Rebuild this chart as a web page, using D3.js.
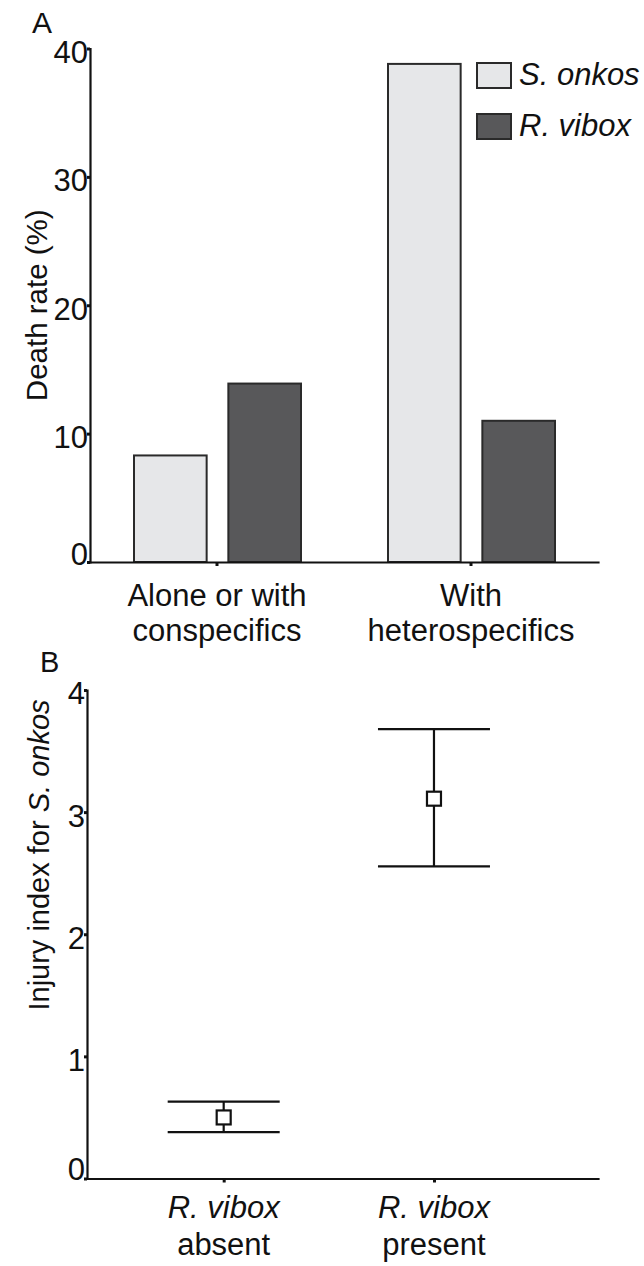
<!DOCTYPE html>
<html>
<head>
<meta charset="utf-8">
<script src="https://cdn.jsdelivr.net/npm/d3@7"></script>
<style>
  html, body { margin: 0; padding: 0; background: #fff; }
  svg { display: block; }
  text { font-family: "Liberation Sans", Arial, Helvetica, sans-serif; fill: #111; }
</style>
</head>
<body>
<svg id="fig" width="644" height="1266"></svg>
<script>
// ---- Panel A: death rate by social context ----
const groups = ["Alone or with conspecifics", "With heterospecifics"];
const groupLines = [["Alone or with", "conspecifics"], ["With", "heterospecifics"]];
const species = ["S. onkos", "R. vibox"];
const onkosDeath = [8.3, 38.8];
const viboxDeath = [13.9, 11.0];
const deathTicks = [0, 10, 20, 30, 40];

// ---- Panel B: injury index for S. onkos ----
const conditions = [1, 2];
const conditionLines = [["R. vibox", "absent"], ["R. vibox", "present"]];
const injuryMean = [0.50, 3.11];
const injuryUpper = [0.63, 3.68];
const injuryLower = [0.38, 2.555];
const injuryTicks = [0, 1, 2, 3, 4];

const speciesFill = { "S. onkos": "#e6e7e9", "R. vibox": "#58585a" };
const ink = "#111";

const svg = d3.select("#fig");

function styleAxis(g) {
  g.select(".domain").attr("stroke", ink).attr("stroke-width", 2.2).attr("stroke-linecap", "square");
  g.selectAll(".tick line").attr("stroke", ink).attr("stroke-width", 3);
  g.selectAll(".tick text").attr("fill", ink).style("font-size", "31px")
    .style("font-family", "'Liberation Sans', Arial, sans-serif");
}

// ================= Panel A =================
const yA = d3.scaleLinear().domain([0, 40]).range([562, 48.5]);
const xA = d3.scaleBand().domain(groups).range([90, 598]).paddingInner(0).paddingOuter(0);
const xInner = d3.scaleBand().domain(species).range([44, 211]).paddingInner(0.23);

const rows = groups.map((g, i) => ({ group: g, values: [
  { sp: species[0], v: onkosDeath[i] },
  { sp: species[1], v: viboxDeath[i] }
]}));

const gA = svg.append("g");

gA.selectAll("g.grp").data(rows).join("g")
  .attr("class", "grp")
  .attr("transform", d => `translate(${xA(d.group)},0)`)
  .selectAll("rect").data(d => d.values).join("rect")
  .attr("x", d => xInner(d.sp))
  .attr("width", xInner.bandwidth())
  .attr("y", d => yA(d.v))
  .attr("height", d => yA(0) - yA(d.v))
  .attr("fill", d => speciesFill[d.sp])
  .attr("stroke", "#2a2a2a")
  .attr("stroke-width", 2);

const axYA = gA.append("g").attr("transform", `translate(${xA.range()[0]},0)`)
  .call(d3.axisLeft(yA).tickValues(deathTicks).tickSize(3).tickSizeOuter(0).tickPadding(0).tickFormat(d3.format("d")));
styleAxis(axYA);
axYA.selectAll(".tick text").attr("dy", d => d === 0 ? "0.08em" : "0.45em").attr("x", -2);

const axXA = gA.append("g").attr("transform", `translate(0,${yA(0)})`)
  .call(d3.axisBottom(xA).tickSize(4).tickSizeOuter(0).tickFormat(""));
styleAxis(axXA);

gA.selectAll("text.cat").data(groups).join("text")
  .attr("class", "cat")
  .attr("text-anchor", "middle")
  .attr("x", d => xA(d) + xA.bandwidth() / 2)
  .attr("y", 606)
  .style("font-size", "31px")
  .selectAll("tspan").data((d, i) => groupLines[i]).join("tspan")
  .attr("x", function () { return d3.select(this.parentNode).attr("x"); })
  .attr("dy", (d, i) => i === 0 ? 0 : 35)
  .text(d => d);

gA.append("text")
  .attr("transform", `translate(47,${(yA(0) + yA(40)) / 2}) rotate(-90)`)
  .attr("text-anchor", "middle")
  .style("font-size", "29.5px")
  .text("Death rate (%)");

gA.append("text").attr("x", 32).attr("y", 33).style("font-size", "30px").text("A");

// legend
const legend = gA.selectAll("g.leg").data(species).join("g")
  .attr("class", "leg")
  .attr("transform", (d, i) => `translate(477,${63 + i * 51})`);
legend.append("rect")
  .attr("width", 34).attr("height", 25)
  .attr("fill", d => speciesFill[d])
  .attr("stroke", "#2a2a2a").attr("stroke-width", 2);
legend.append("text")
  .attr("x", 42).attr("y", 22)
  .style("font-size", "31px").style("font-style", "italic")
  .text(d => d);

// ================= Panel B =================
const yB = d3.scaleLinear().domain([0, 4]).range([1178.5, 690]);
const xB = d3.scaleLinear().domain([0.35, 2.78]).range([87, 598]);
const capHalf = 56;
const boxSize = 14;

const gB = svg.append("g");

const axYB = gB.append("g").attr("transform", `translate(${xB.range()[0]},0)`)
  .call(d3.axisLeft(yB).tickValues(injuryTicks).tickSize(3).tickSizeOuter(0).tickPadding(0).tickFormat(d3.format("d")));
styleAxis(axYB);
axYB.selectAll(".tick text").attr("dy", d => d === 0 ? "0.02em" : "0.45em").attr("x", -2);

const axXB = gB.append("g").attr("transform", `translate(0,${yB(0)})`)
  .call(d3.axisBottom(xB).tickValues(conditions).tickSize(4).tickSizeOuter(0).tickFormat(""));
styleAxis(axXB);

const pts = conditions.map((c, i) => ({ c, m: injuryMean[i], hi: injuryUpper[i], lo: injuryLower[i] }));

const eb = gB.selectAll("g.eb").data(pts).join("g").attr("class", "eb");
eb.append("line")
  .attr("x1", d => xB(d.c)).attr("x2", d => xB(d.c))
  .attr("y1", d => yB(d.hi)).attr("y2", d => yB(d.lo))
  .attr("stroke", ink).attr("stroke-width", 2.2);
eb.selectAll("line.cap").data(d => [{ c: d.c, v: d.hi }, { c: d.c, v: d.lo }]).join("line")
  .attr("class", "cap")
  .attr("x1", d => xB(d.c) - capHalf).attr("x2", d => xB(d.c) + capHalf)
  .attr("y1", d => yB(d.v)).attr("y2", d => yB(d.v))
  .attr("stroke", ink).attr("stroke-width", 2.2);
eb.append("rect")
  .attr("x", d => xB(d.c) - boxSize / 2).attr("y", d => yB(d.m) - boxSize / 2)
  .attr("width", boxSize).attr("height", boxSize)
  .attr("fill", "#fff").attr("stroke", ink).attr("stroke-width", 2.2);

gB.selectAll("text.cond").data(conditions).join("text")
  .attr("class", "cond")
  .attr("text-anchor", "middle")
  .attr("x", d => xB(d))
  .attr("y", 1218)
  .style("font-size", "31px")
  .selectAll("tspan").data((d, i) => conditionLines[i]).join("tspan")
  .attr("x", function () { return d3.select(this.parentNode).attr("x"); })
  .attr("dy", (d, i) => i === 0 ? 0 : 37)
  .style("font-style", (d, i) => i === 0 ? "italic" : "normal")
  .text(d => d);

// axis title sits above the middle of the axis
const yLab = gB.append("text")
  .attr("transform", "translate(49,855) rotate(-90)")
  .attr("text-anchor", "middle")
  .style("font-size", "29px");
yLab.append("tspan").text("Injury index for ");
yLab.append("tspan").style("font-style", "italic").text("S. onkos");

gB.append("text").attr("x", 40).attr("y", 672).style("font-size", "29px").text("B");
</script>
</body>
</html>
